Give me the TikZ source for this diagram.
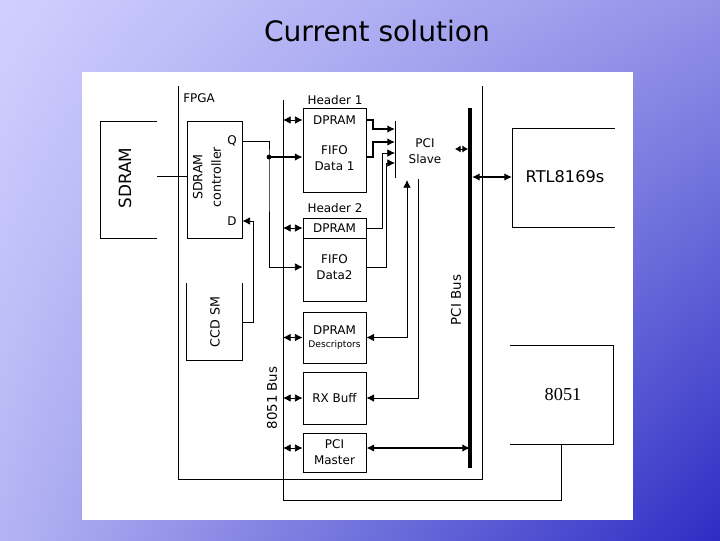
\documentclass[tikz,border=0pt]{standalone}
\usepackage{fontspec}
\setmainfont{DejaVu Sans}
\newfontfamily\timesfont{Liberation Serif}
\usetikzlibrary{arrows.meta,shadings}

\definecolor{bgtl}{RGB}{208,208,255}
\definecolor{bgtr}{RGB}{146,146,232}
\definecolor{bgbl}{RGB}{180,180,244}
\definecolor{bgbr}{RGB}{44,44,196}

\tikzset{
	wire/.style={line width=0.6pt},
	thk/.style={line width=2pt},
	pcibus/.style={line width=3pt},
	blk/.style={draw,line width=0.6pt,minimum width=1.575cm,inner sep=0pt,align=center,font=\fontsize{8.5}{11.5}\selectfont},
	lbl/.style={inner sep=0pt,align=center,font=\fontsize{8.5}{11.5}\selectfont},
	>={Latex[length=5.5pt,width=5.5pt]}
}

\begin{document}
\begin{tikzpicture}[x=0.025cm,y=-0.025cm]
	\useasboundingbox (0,0) rectangle (720,540);
	\shade[upper left=bgtl,upper right=bgtr,lower left=bgbl,lower right=bgbr] (0,0) rectangle (720,540);
	\fill[white] (82,72) rectangle (633,520);
	\node[inner sep=0pt,font=\fontsize{20}{24}\selectfont] (title) at (377,31) {Current solution};

	% memory and fpga frame
	\draw[wire] (157,121) -- (100,121) -- (100,238) -- (157,238);
	\node[lbl,rotate=90,font=\fontsize{12}{14}\selectfont] (sdram) at (125,178) {SDRAM};
	\draw[wire] (178,86) -- (178,479) -- (482,479) -- (482,86);
	\node[lbl,anchor=west] (fpga) at (183,98) {FPGA};
	\node[draw,wire,minimum width=1.375cm,minimum height=2.925cm] (ctrl) at (214.5,179.5) {};
	\node[lbl,rotate=90,font=\fontsize{9}{13}\selectfont] (ctrltxt) at (207,177) {SDRAM\\controller};
	\node[lbl] (q) at (232,141) {Q};
	\node[lbl] (d) at (232,221) {D};
	\coordinate (sdramR) at (157,176);
	\draw[wire] (sdramR) -- (ctrl.west |- sdramR);
	\draw[wire] (186,283) -- (186,360) -- (242,360) -- (242,283);
	\node[lbl,rotate=90,font=\fontsize{9}{11}\selectfont] (ccd) at (215,322) {CCD SM};
	\coordinate (ccdR) at (242,322);

	% buffers
	\node[lbl] (hdr1) at (335,100) {Header 1};
	\node[blk,minimum height=2.1cm] (blk1) at (334.5,150) {};
	\node[lbl] (d1) at (334.5,120) {DPRAM};
	\node[lbl] (f1) at (334.5,158) {FIFO\\Data 1};
	\node[lbl] (hdr2) at (335,208) {Header 2};
	\node[blk,minimum height=2.075cm] (blk2) at (334.5,259.5) {};
	\node[lbl] (d2) at (334.5,228) {DPRAM};
	\node[lbl] (f2) at (334.5,267) {FIFO\\Data2};
	\draw[wire] (blk2.west |- 0,238) -- (blk2.east |- 0,238);
	\node[blk,minimum height=1.275cm] (blk3) at (334.5,337.5) {DPRAM\\[-2pt]{\fontsize{6.5}{8}\selectfont Descriptors}};
	\node[blk,minimum height=1.3cm] (blk4) at (334.5,398) {RX Buff};
	\node[blk,minimum height=0.975cm] (blk5) at (334.5,452.5) {PCI\\Master};
	\coordinate (pmrow) at (0,448);

	% 8051 bus
	\coordinate (bus8051) at (283,100);
	\draw[wire] (bus8051) -- (283,500) -- (561,500) -- (561,444);
	\node[lbl,rotate=90,font=\fontsize{9.5}{11}\selectfont] (bus8051lbl) at (272,398) {8051 Bus};
	\draw[wire,<->] (bus8051 |- d1) -- (blk1.west |- d1);
	\draw[wire,<->] (bus8051 |- d2) -- (blk2.west |- d2);
	\draw[wire,<->] (bus8051 |- blk3.west) -- (blk3.west);
	\draw[wire,<->] (bus8051 |- blk4.west) -- (blk4.west);
	\draw[wire,<->] (bus8051 |- pmrow) -- (blk5.west |- pmrow);

	% controller wiring
	\coordinate (qsplit) at (269,157);
	\draw[wire,->] (ctrl.east |- q) -| (qsplit) |- (blk2.west |- f2);
	\fill (qsplit) circle (2.4);
	\draw[thk,->] (qsplit) -- (blk1.west |- qsplit);
	\draw[wire,->] (ccdR) -| (253,221) -- (ctrl.east |- d);

	% pci slave
	\coordinate (slvT) at (395,121);
	\coordinate (slvB) at (395,178);
	\draw[wire] (slvT) -- (slvB);
	\node[lbl] (slave) at (425,151) {PCI\\Slave};
	\draw[thk,->] (blk1.east |- d1) -| (373,129) -- (slvT |- 0,129);
	\draw[thk,->] (blk1.east |- qsplit) -| (373,142) -- (slvT |- 0,142);
	\draw[wire,->] (blk2.east |- d2) -| (382,153) -- (slvT |- 0,153);
	\draw[wire,->] (blk2.east |- f2) -| (386,163) -- (slvT |- 0,163);
	\draw[wire,<->] (407,180) |- (blk3.east);
	\draw[wire,->] (418,179) |- (blk4.east);
	\draw[wire,<->,>={Latex[length=4pt,width=5pt]}] (455,149) -- (468,149);

	% pci bus
	\coordinate (pciT) at (470,108);
	\draw[pcibus] (pciT) -- (470,468);
	\node[lbl,rotate=90,font=\fontsize{9.5}{11}\selectfont] (pcilbl) at (456,300) {PCI Bus};
	\draw[thk,<->] (blk5.east |- pmrow) -- (pciT |- pmrow);

	% external chips
	\draw[wire] (615,128) -- (512,128) -- (512,227) -- (615,227);
	\node[lbl,font=\fontsize{11.5}{13}\selectfont] (rtl) at (565,177) {RTL8169s};
	\draw[thk,<->] (472,177) -- (512,177);
	\draw[wire] (510,345) -- (613,345) -- (613,444) -- (510,444);
	\node[lbl,font=\timesfont\fontsize{13}{15}\selectfont] (mcu) at (563,394) {8051};
\end{tikzpicture}
\end{document}
